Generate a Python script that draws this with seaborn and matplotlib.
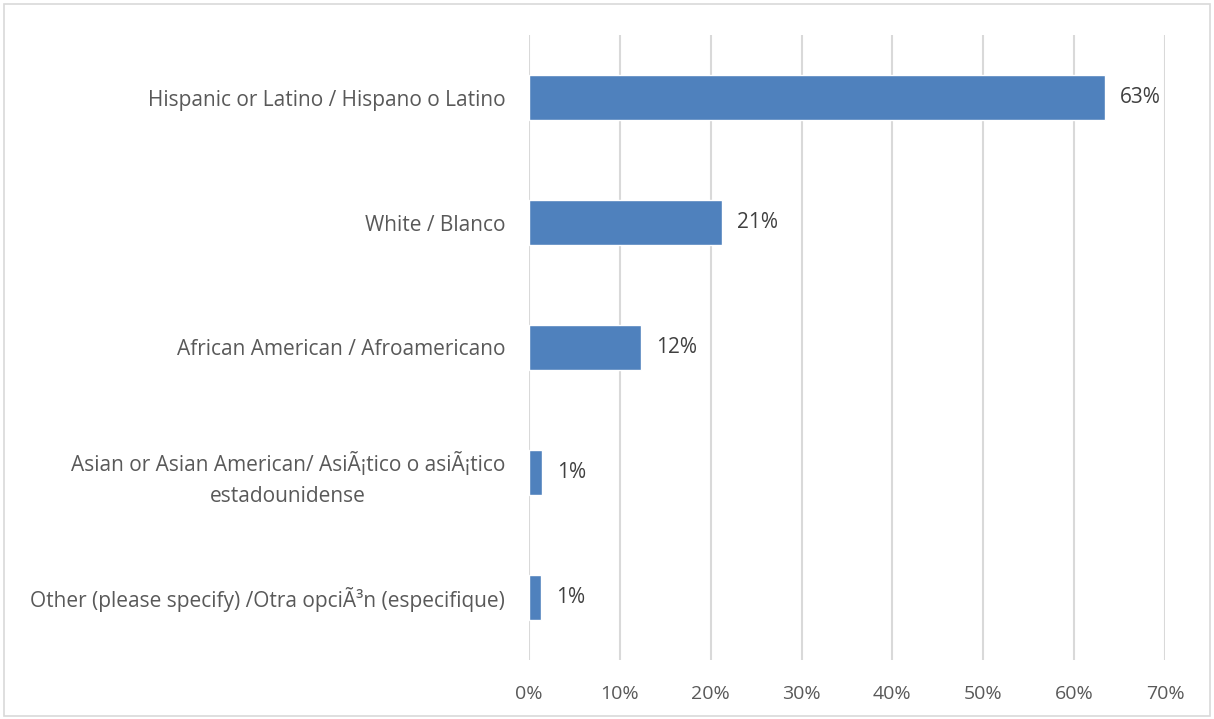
import matplotlib
matplotlib.use("Agg")
import matplotlib.pyplot as plt
import seaborn as sns
import pandas as pd
from matplotlib.patches import Rectangle

categories = [
    "Hispanic or Latino / Hispano o Latino",
    "White / Blanco",
    "African American / Afroamericano",
    "Asian or Asian American/ AsiÃ¡tico o asiÃ¡tico\nestadounidense",
    "Other (please specify) /Otra opciÃ³n (especifique)",
]
values = [63.4, 21.2, 12.3, 1.4, 1.3]
value_labels = ["63%", "21%", "12%", "1%", "1%"]
x_ticks = [0, 10, 20, 30, 40, 50, 60, 70]

sns.set_theme(style="white")
plt.rcParams["font.family"] = ["Open Sans", "DejaVu Sans"]

df = pd.DataFrame({"group": categories, "pct": values})

fig = plt.figure(figsize=(12.14, 7.19), dpi=100)
ax = fig.add_axes([0.4357, 0.0821, 0.5239, 0.8692])

sns.barplot(data=df, x="pct", y="group", orient="h", color="#4F81BD",
            saturation=1, width=0.36, ax=ax, zorder=3)

ax.set_xlim(0, 70)
ax.set_ylim(4.5, -0.5)
ax.set_xticks(x_ticks)
ax.set_xticklabels([f"{t}%" for t in x_ticks])
ax.xaxis.grid(True, color="#D9D9D9", linewidth=1.5, zorder=0)
ax.yaxis.grid(False)
for s in ax.spines.values():
    s.set_visible(False)
ax.set_xlabel("")
ax.set_ylabel("")
ax.tick_params(axis="x", length=0, pad=18, labelsize=14, labelcolor="#595959")
ax.tick_params(axis="y", length=0, pad=17, labelsize=15, labelcolor="#595959")
for lbl in ax.get_yticklabels():
    lbl.set_multialignment("center")
    lbl.set_linespacing(1.6)

for i, (v, t) in enumerate(zip(values, value_labels)):
    ax.annotate(t, xy=(v, i), xytext=(11, 0), textcoords="offset points",
                va="center", ha="left", fontsize=15, color="#404040")

fig.patches.append(Rectangle((0.003, 0.004), 0.994, 0.991, transform=fig.transFigure,
                             fill=False, edgecolor="#D9D9D9", linewidth=1.2))

fig.savefig("out.png", dpi=100, facecolor="white")
